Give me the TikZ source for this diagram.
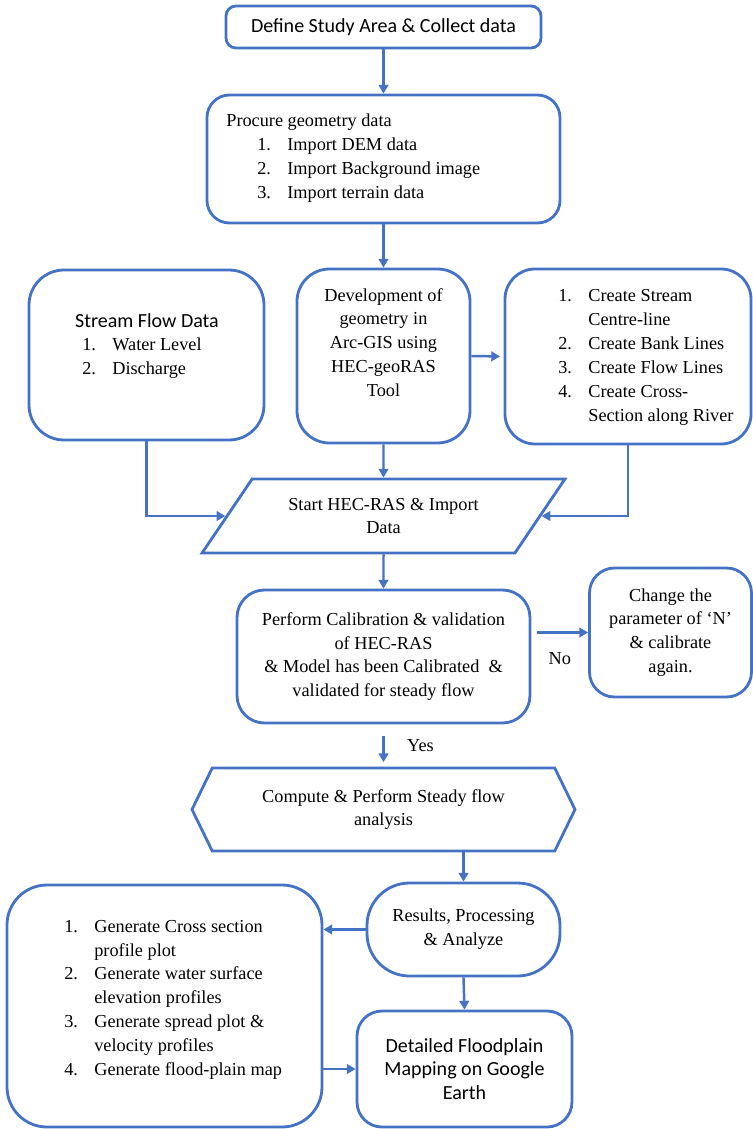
\documentclass[tikz,border=0pt]{standalone}
\usepackage{fontspec}
\setmainfont{Liberation Serif}
\newfontfamily\cfont{Carlito}
\usetikzlibrary{arrows.meta,calc,positioning,shapes.geometric,shapes.symbols}
\definecolor{flowblue}{RGB}{68,114,196}
\tikzset{
	px/.style 2 args={minimum width=#1*0.02cm, minimum height=#2*0.02cm},
	shp/.style={draw=flowblue, line width=1.6pt, inner sep=0pt, align=center,
		font=\fontsize{10.4}{13.6}\selectfont},
	box/.style={shp, rounded corners=#1},
	box/.default=10pt,
	sans/.style={font=\cfont\fontsize{11.4}{13.3}\selectfont},
	txt/.style={inner sep=0pt, font=\fontsize{10.4}{13.6}\selectfont},
	ar/.style={draw=flowblue, line width=1.4pt, -{Triangle[length=5pt,width=5.5pt]}},
}
\begin{document}
\begin{tikzpicture}[x=0.02cm, y=-0.02cm]
   \useasboundingbox (0,0) rectangle (753,1129);
   % top of the chain
   \node[box=0.2cm, sans, px={315}{42}] (define) at (383.5,27) {Define Study Area \& Collect data};
   \node[box=0.45cm, px={353}{128}] (procure) at (383.5,159) {};
   \node[txt, anchor=west] (procuretxt) at (226,157.5) {\begin{tabular}{@{}p{0.62cm}@{}p{0.6cm}@{}l@{}}
      \multicolumn{3}{@{}l@{}}{Procure geometry data}\\
      & 1. & Import DEM data\\
      & 2. & Import Background image\\
      & 3. & Import terrain data
   \end{tabular}};
   % three inputs
   \node[box=0.7cm, px={235}{170}] (stream) at (146.5,355) {};
   \node[sans, inner sep=0pt] (streamhead) at (147,321) {Stream Flow Data};
   \node[txt, anchor=west] (streamtxt) at (82,358) {\begin{tabular}{@{}p{0.6cm}@{}l@{}}
      1. & Water Level\\
      2. & Discharge
   \end{tabular}};
   \node[box=0.65cm, px={173}{174}] (dev) at (383.5,356) {\begin{tabular}{@{}c@{}}
      Development of\\geometry in\\Arc-GIS using\\HEC-geoRAS\\Tool\\[13.6pt]
   \end{tabular}};
   \node[box=0.6cm, px={246}{175}] (create) at (628,356.5) {};
   \node[txt, anchor=west] (createtxt) at (558,356.5) {\begin{tabular}{@{}p{0.6cm}@{}l@{}}
      1. & Create Stream\\
         & Centre-line\\
      2. & Create Bank Lines\\
      3. & Create Flow Lines\\
      4. & Create Cross-\\
         & Section along River
   \end{tabular}};
   \node[shp, trapezium, trapezium left angle=45, trapezium right angle=135,
      trapezium stretches=true, px={363}{74}] (start) at (383.5,516) {Start HEC-RAS \& Import\\Data};
   % calibration loop
   \node[box=0.55cm, px={293}{133}] (calib) at (383.5,656.5)
      {Perform Calibration \& validation\\of HEC-RAS\\\& Model has been Calibrated~~\&\\validated for steady flow};
   \node[box=0.5cm, px={162}{129}] (change) at (670.5,632.5) {Change the\\parameter of `N'\\\& calibrate\\again.};
   \node[shp, signal, signal to=west and east, signal pointer angle=128, px={383}{83}] (compute)
      at (383.5,809.5) {Compute \& Perform Steady flow\\analysis};
   % outputs
   \node[box=0.85cm, px={193}{93}] (results) at (463.5,929.5) {Results, Processing\\\& Analyze};
   \node[box=0.8cm, px={315}{242}] (gen) at (164.5,1006) {};
   \node[txt, anchor=west] (gentxt) at (64,999) {\begin{tabular}{@{}p{0.6cm}@{}l@{}}
      1. & Generate Cross section\\
         & profile plot\\
      2. & Generate water surface\\
         & elevation profiles\\
      3. & Generate spread plot \&\\
         & velocity profiles\\
      4. & Generate flood-plain map
   \end{tabular}};
   \node[box=0.5cm, sans, px={215}{116}] (floodmap) at (464.5,1069) {Detailed Floodplain\\Mapping on Google\\Earth};

   \draw[ar] (define) -- (procure);
   \draw[ar] (procure) -- (dev);
   \draw[ar, shorten >=2pt] (dev.east) -- (create.west);
   \draw[ar] (stream.south) |- (start.west);
   \draw[ar] (dev.south) -- (start.north);
   \draw[ar] (create.south) |- (start.east);
   \draw[ar] (start.south) -- (calib.north);
   \draw[ar, shorten <=3pt] (calib.east |- change.west) -- (change.west)
      node[txt, midway, below=0.38cm] (no) {No};
   \draw[ar, shorten <=6.5pt, shorten >=2.5pt] (calib.south) -- (compute.north)
      node[txt, midway, right=0.45cm] (yes) {Yes};
   \draw[ar] (results.north |- compute.south) -- (results.north);
   \draw[ar] (results.west) -- (results.west -| gen.east);
   \draw[ar] (results.south) -- (floodmap.north);
   \draw[ar] (gen.east |- floodmap.west) -- (floodmap.west);
\end{tikzpicture}
\end{document}
